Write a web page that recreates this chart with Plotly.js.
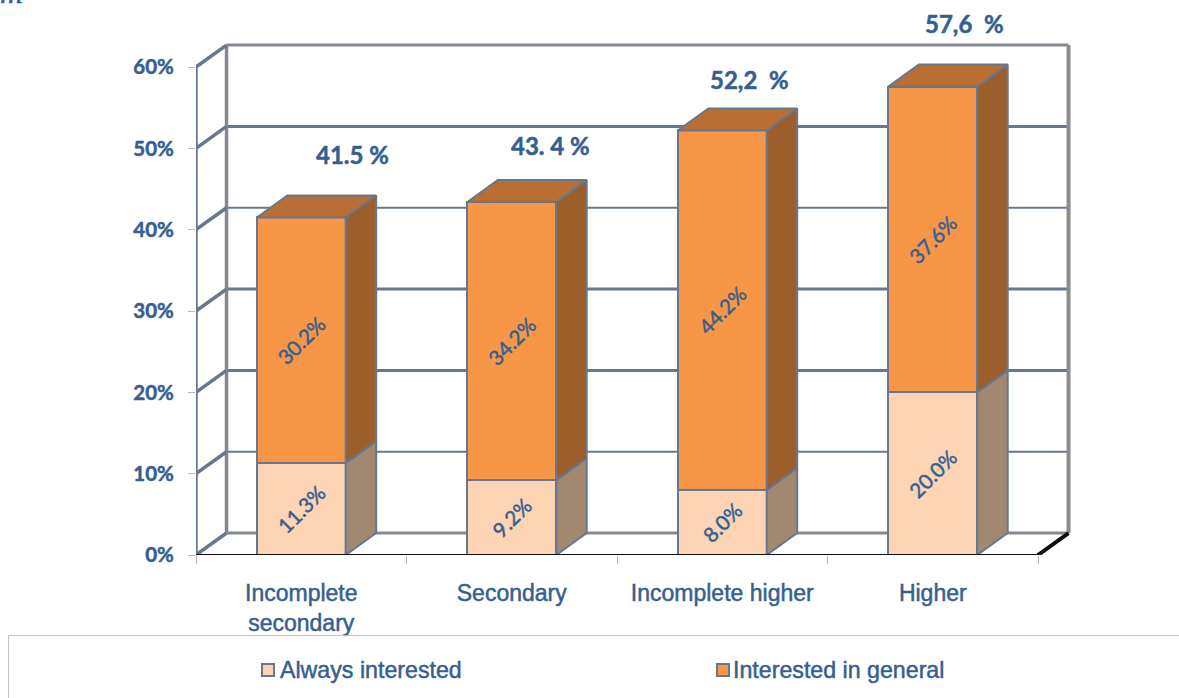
<!DOCTYPE html>
<html>
<head>
<meta charset="utf-8">
<script src="https://cdn.plot.ly/plotly-3.0.1.min.js"></script>
<style>
html,body{margin:0;padding:0;background:#fff;overflow:hidden}
/* Slightly heavier lettering throughout */
#chart text{stroke:#365f91;stroke-width:0.5px}
</style>
</head>
<body>
<div id="chart" style="width:1179px;height:698px"></div>
<script>
// Share of respondents interested, by level of education
const categories = ['Incomplete<br>secondary', 'Secondary', 'Incomplete higher', 'Higher'];
const alwaysInterested = [11.3, 9.2, 8.0, 20.0];
const interestedInGeneral = [30.2, 34.2, 44.2, 37.6];
const totalLabels = ['41.5 %', '43. 4 %', '52,2\u00a0 %', '57,6\u00a0 %'];
const percentTicks = [0, 10, 20, 30, 40, 50, 60];
const seriesNames = ['Always interested', 'Interested in general'];

const W = 1179, H = 698;
const plotL = 196, plotR = 1072, plotT = 41, plotB = 555;
const TEXT = '#365f91', EDGE = '#67778f', WALL = '#85898f';

// Pseudo-3D extrusion, in axis units
const barW = 0.422, depthX = 0.145, depthY = 2.7;
const pxX = x => (x - plotL) / (plotR - plotL);
const pxY = y => (plotB - y) / (plotB - plotT);
const xs = categories.map((_, i) => i);
const totals = xs.map(i => alwaysInterested[i] + interestedInGeneral[i]);

function face(xv, yv, color) {
  return {type: 'scatter', mode: 'lines', x: xv, y: yv, fill: 'toself', fillcolor: color,
    line: {color: EDGE, width: 2}, hoverinfo: 'skip', showlegend: false, cliponaxis: false};
}
function edge(xv, yv, color, width) {
  return {type: 'scatter', mode: 'lines', x: xv, y: yv, line: {color, width},
    hoverinfo: 'skip', showlegend: false, cliponaxis: false};
}

const wallL = -0.5, wallR = 3.5;

const traces = [
  {type: 'bar', x: xs, y: alwaysInterested, width: barW, name: seriesNames[0],
   marker: {color: '#fdd4b4', line: {color: EDGE, width: 2}},
   text: alwaysInterested.map(v => v.toFixed(1) + '%')},
  {type: 'bar', x: xs, y: interestedInGeneral, width: barW, name: seriesNames[1],
   marker: {color: '#f79646', line: {color: EDGE, width: 2}},
   text: interestedInGeneral.map(v => v.toFixed(1) + '%')}
].map(t => Object.assign(t, {
  textposition: 'inside', insidetextanchor: 'middle', textangle: -45, constraintext: 'none',
  insidetextfont: {family: 'Lato, sans-serif', size: 20.5, color: TEXT}, showlegend: false
}));

// Left front upright and the diagonals running back to the wall
traces.push(edge([wallL, wallL], [0, 60], EDGE, 3.5));
percentTicks.forEach(v => traces.push(edge([wallL, wallL + depthX], [v, v + depthY], EDGE, 3.5)));

// Right-hand side and top of every column
xs.forEach(i => {
  const xa = i + barW / 2, xb = xa + depthX, xl = i - barW / 2;
  const low = alwaysInterested[i], top = totals[i];
  traces.push(face([xa, xb, xb, xa, xa], [0, depthY, low + depthY, low, 0], '#a08871'));
  traces.push(face([xa, xb, xb, xa, xa], [low, low + depthY, top + depthY, top, low], '#9c5f2b'));
  traces.push(face([xl, xa, xb, xl + depthX, xl], [top, top, top + depthY, top + depthY, top], '#b96f33'));
});

// Black floor edge along the front and right of the base
traces.push(edge([wallL, wallR], [0, 0], '#111111', 2));
traces.push(edge([wallR, wallR + depthX], [0, depthY], '#111111', 4));

// Back wall and gridlines sit under the columns
const seg = (x0, y0, x1, y1, color, width) => ({type: 'line', layer: 'below', xref: 'x', yref: 'y',
  x0, y0, x1, y1, line: {color, width}});
const shapes = [];
percentTicks.forEach(v => {
  const tone = (v === 0 || v === 60) ? WALL : EDGE;
  const w = (v === 10 || v === 40) ? 2 : 3;
  shapes.push(seg(wallL + depthX, v + depthY, wallR + depthX, v + depthY, tone, w));
});
shapes.push(seg(wallL + depthX, depthY, wallL + depthX, 60 + depthY, WALL, 3.5));
shapes.push(seg(wallR + depthX, depthY, wallR + depthX, 60 + depthY, '#8c8c8c', 4));

// Frame around the key
const frame = {color: '#c0c2c8', width: 1};
shapes.push({type: 'line', xref: 'paper', yref: 'paper', x0: pxX(8.5), x1: pxX(W), y0: pxY(635.5), y1: pxY(635.5), line: frame});
shapes.push({type: 'line', xref: 'paper', yref: 'paper', x0: pxX(8.5), x1: pxX(8.5), y0: pxY(635.5), y1: pxY(H), line: frame});

// Key swatches
const swatchX = [262, 717], swatchColors = ['#fdd4b4', '#f79646'];
swatchX.forEach((x, k) => shapes.push({type: 'rect', xref: 'paper', yref: 'paper',
  x0: pxX(x), x1: pxX(x + 12), y0: pxY(664), y1: pxY(676),
  fillcolor: swatchColors[k], line: {color: EDGE, width: 2}}));

const totalPos = [[352, 154.5], [550, 145.5], [749, 79.5], [964, 24]];
const note = (text, x, y, font, xanchor) => ({text, x: pxX(x), y: pxY(y), xref: 'paper', yref: 'paper',
  showarrow: false, xanchor: xanchor || 'center', yanchor: 'middle', font});
const annotations = totalLabels.map((t, i) =>
  note(t, totalPos[i][0], totalPos[i][1], {family: 'Lato, sans-serif', size: 24, color: TEXT, weight: 700}));
annotations.push(note(seriesNames[0], 278, 670, {family: 'Liberation Sans, Arial, sans-serif', size: 23.2, color: TEXT}, 'left'));
annotations.push(note(seriesNames[1], 731, 670, {family: 'Liberation Sans, Arial, sans-serif', size: 23.2, color: TEXT}, 'left'));
// Tail of a title line that runs off the top edge
annotations.push(note('m', -2, -8, {family: 'Liberation Serif, serif', size: 32, color: TEXT, style: 'italic'}, 'left'));

const layout = {
  width: W, height: H, paper_bgcolor: '#ffffff', plot_bgcolor: 'rgba(0,0,0,0)',
  margin: {l: plotL, r: W - plotR, t: plotT, b: H - plotB, pad: 0},
  barmode: 'stack', showlegend: false, shapes, annotations,
  xaxis: {type: 'linear', range: [-0.5, (plotR - plotL) / 210.5 - 0.5], showgrid: false, zeroline: false,
    showline: false, tickmode: 'array', tickvals: xs, ticktext: categories, ticks: '', ticklabelstandoff: 22,
    tickfont: {family: 'Liberation Sans, Arial, sans-serif', size: 23, color: TEXT},
    minor: {tickmode: 'array', tickvals: [-0.5, 0.5, 1.5, 2.5, 3.5], ticks: 'outside', ticklen: 8, tickcolor: '#b4bac6', tickwidth: 1, showgrid: false}},
  yaxis: {range: [0, (plotB - plotT) / 8.133], showgrid: false, zeroline: false, showline: false,
    tickmode: 'array', tickvals: percentTicks, ticktext: percentTicks.map(v => v + '%'),
    ticks: 'outside', ticklen: 7, tickcolor: '#b4bac6', tickwidth: 1, ticklabelstandoff: 10,
    tickfont: {family: 'Lato, sans-serif', size: 20.5, color: TEXT, weight: 700}}
};

Plotly.newPlot('chart', traces, layout, {displayModeBar: false, staticPlot: true});
</script>
</body>
</html>
